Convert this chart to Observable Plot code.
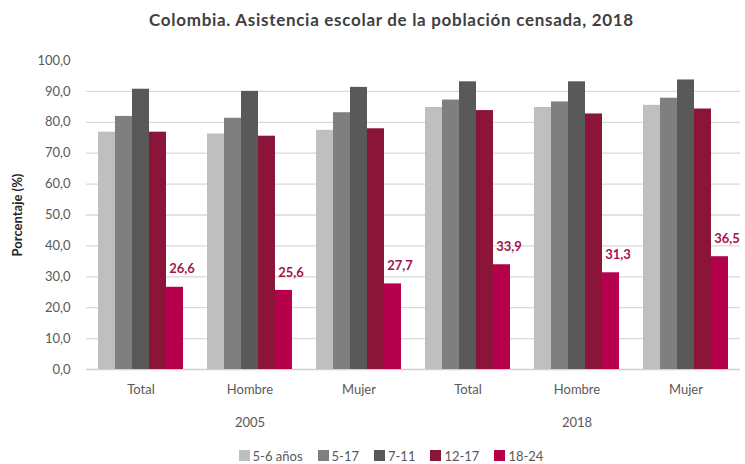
<!DOCTYPE html>
<html><head><meta charset="utf-8">
<script src="https://cdn.jsdelivr.net/npm/d3@7"></script>
<script src="https://cdn.jsdelivr.net/npm/@observablehq/plot@0.6"></script>
<style>
body{margin:0;background:#fff;font-family:Lato, sans-serif;}
#wrap{width:745px;height:464px;position:relative;overflow:hidden;}
#title{position:absolute;top:9px;left:0;width:745px;padding-left:38px;box-sizing:border-box;text-align:center;font-weight:bold;font-size:17px;letter-spacing:0.7px;color:#404040;}
#chart{position:absolute;top:40px;left:0;}
#legend{position:absolute;top:439px;left:0;width:745px;display:flex;justify-content:center;padding-left:52px;box-sizing:border-box;}
g[aria-label="y-axis label"] text{font-weight:bold;fill:#262626;}
.lg-swatch{margin-right:15px !important;}
.lg-swatch svg{margin-right:3px !important;}
</style></head>
<body><div id="wrap"><div id="title">Colombia. Asistencia escolar de la población censada, 2018</div><div id="chart"></div><div id="legend"></div></div>
<script>
const years = ["2005", "2018"];
const groups = ["Total", "Hombre", "Mujer"];
const series = ["5-6 años", "5-17", "7-11", "12-17", "18-24"];
const colors = ["#bfbfbf", "#7f7f7f", "#595959", "#8b1538", "#b5004b"];
const yTicks = [0, 10, 20, 30, 40, 50, 60, 70, 80, 90, 100];

const total2005  = [76.8, 81.9, 90.7, 76.8, 26.6];
const hombre2005 = [76.2, 81.3, 90.0, 75.5, 25.6];
const mujer2005  = [77.4, 83.1, 91.3, 77.9, 27.7];
const total2018  = [84.8, 87.2, 93.1, 83.8, 33.9];
const hombre2018 = [84.8, 86.6, 93.1, 82.7, 31.3];
const mujer2018  = [85.5, 87.8, 93.7, 84.3, 36.5];

const valueSets = {
  "2005|Total": total2005, "2005|Hombre": hombre2005, "2005|Mujer": mujer2005,
  "2018|Total": total2018, "2018|Hombre": hombre2018, "2018|Mujer": mujer2018
};
const fxDomain = years.flatMap(y => groups.map(g => `${y}|${g}`));
const data = fxDomain.flatMap(key => series.map((s, i) => ({key, serie: s, value: valueSets[key][i]})));
const yearLabels = years.map(y => ({key: `${y}|Hombre`, year: y}));
const fmt = v => v.toFixed(1).replace(".", ",");

const chart = Plot.plot({
  width: 745,
  height: 404,
  marginLeft: 84,
  marginRight: 2,
  marginTop: 20,
  marginBottom: 75,
  style: {fontFamily: "Lato, sans-serif", fontSize: "13px", color: "#595959", background: "#fff"},
  fx: {domain: fxDomain, paddingInner: 0.217, paddingOuter: 0.11, tickFormat: d => d.split("|")[1], tickSize: 0, tickPadding: 15, label: null, axis: "bottom"},
  x: {domain: series, axis: null, padding: 0},
  y: {domain: [0, 100], ticks: yTicks, tickFormat: fmt, tickSize: 0, tickPadding: 28, label: "Porcentaje (%)", labelAnchor: "center", labelOffset: 86, labelArrow: "none"},
  color: {domain: series, range: colors},
  marks: [
    Plot.ruleY(yTicks.filter(d => d > 0 && d < 100), {y: d => d, stroke: "#d9d9d9", strokeWidth: 1.3, insetLeft: -12, insetRight: -12}),
    Plot.ruleY([0], {y: d => d, stroke: "#d0d0d0", strokeWidth: 1.3, insetLeft: -12, insetRight: -12}),
    Plot.barY(data, {fx: "key", x: "serie", y: "value", fill: "serie"}),
    Plot.text(data.filter(d => d.serie === "18-24"), {fx: "key", x: "serie", y: "value", text: d => fmt(d.value), dy: -18, dx: 7, fill: "#a3144a", fontWeight: "bold", fontSize: 13}),
    Plot.text(yearLabels, {fx: "key", frameAnchor: "bottom", dy: 57, text: "year", fill: "#595959", fontSize: 13})
  ]
});
document.getElementById("chart").appendChild(chart);

const legend = Plot.legend({
  color: {domain: series, range: colors},
  legend: "swatches",
  swatchSize: 11,
  className: "lg",
  style: {fontFamily: "Lato, sans-serif", fontSize: "13px", color: "#595959"}
});
document.getElementById("legend").appendChild(legend);
</script>
</body></html>
